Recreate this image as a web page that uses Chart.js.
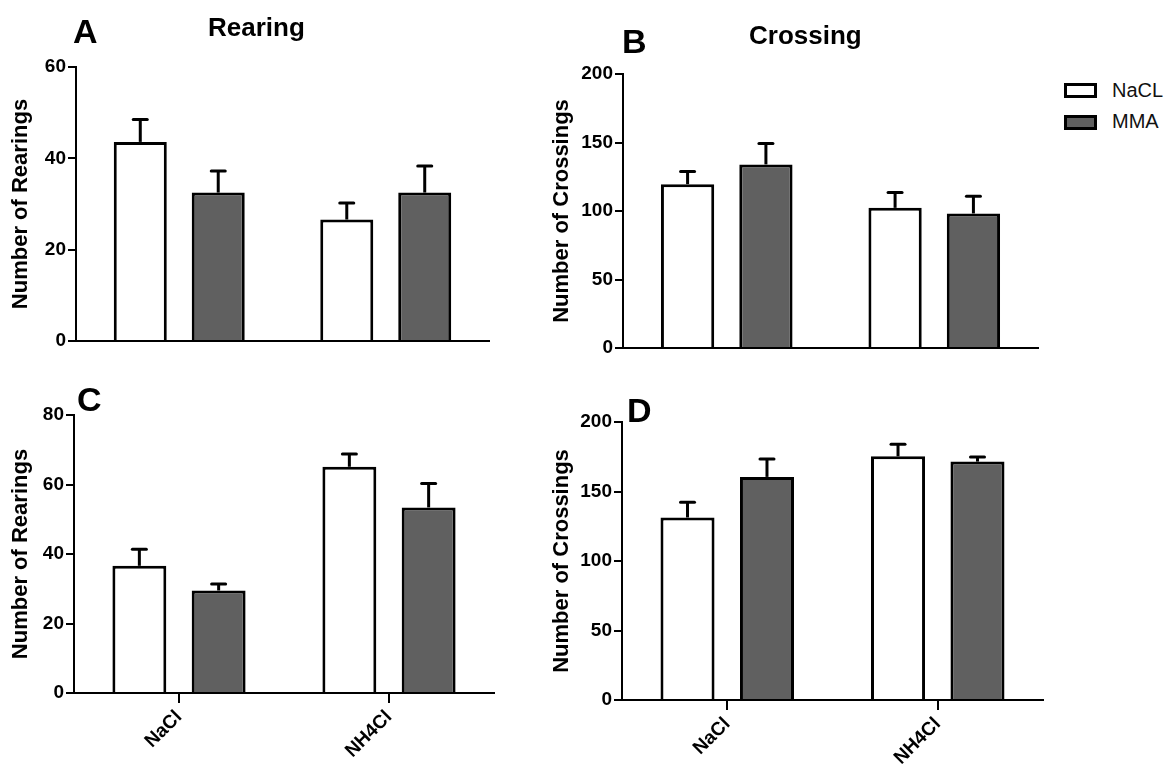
<!DOCTYPE html>
<html>
<head>
<meta charset="utf-8">
<script src="https://cdn.jsdelivr.net/npm/chart.js@4"></script>
<style>
  body { margin: 0; background: #fff; font-family: 'Liberation Sans', Arial, sans-serif; }
  #wrap { position: relative; width: 1176px; height: 767px; overflow: hidden; }
  canvas { position: absolute; }
  .txt { position: absolute; font-weight: bold; line-height: 1; color: #000; white-space: nowrap; }
  .letter { font-size: 34px; }
  .title { font-size: 26px; }
  .legbox { position: absolute; width: 27px; height: 9px; border: 3px solid #000; }
  .legtxt { position: absolute; font-size: 20px; line-height: 1; color: #111; }
</style>
</head>
<body>
<div id="wrap">
  <canvas id="chartA" width="492" height="362" style="left:0;top:0"></canvas>
  <canvas id="chartB" width="501" height="366" style="left:540px;top:0"></canvas>
  <canvas id="chartC" width="497" height="397" style="left:0;top:370px"></canvas>
  <canvas id="chartD" width="506" height="397" style="left:540px;top:370px"></canvas>

  <div class="txt letter" style="left:73px;top:14px">A</div>
  <div class="txt letter" style="left:622px;top:24px">B</div>
  <div class="txt letter" style="left:77px;top:382px">C</div>
  <div class="txt letter" style="left:627px;top:393px">D</div>
  <div class="txt title" style="left:208px;top:14px">Rearing</div>
  <div class="txt title" style="left:749px;top:22px">Crossing</div>

  <div class="legbox" style="left:1064px;top:83px;background:#fff"></div>
  <div class="legtxt" style="left:1112px;top:80px">NaCL</div>
  <div class="legbox" style="left:1064px;top:115px;background:#606060"></div>
  <div class="legtxt" style="left:1112px;top:111px">MMA</div>
</div>
<script>
const groups = ['NaCl', 'NH4Cl'];
const seriesNames = ['NaCL', 'MMA'];

// A - rearing (top)
const rearingTopNacl = [43.6, 26.6];
const rearingTopNaclErr = [4.9, 3.6];
const rearingTopMma = [32.5, 32.5];
const rearingTopMmaErr = [4.7, 5.8];

// B - crossing (top)
const crossingTopNacl = [119.6, 102.3];
const crossingTopNaclErr = [9.3, 11.2];
const crossingTopMma = [134.0, 98.2];
const crossingTopMmaErr = [15.3, 12.6];

// C - rearing (bottom)
const rearingBotNacl = [36.6, 65.1];
const rearingBotNaclErr = [4.8, 3.7];
const rearingBotMma = [29.5, 53.4];
const rearingBotMmaErr = [1.9, 6.9];

// D - crossing (bottom)
const crossingBotNacl = [131.3, 175.3];
const crossingBotNaclErr = [11.0, 8.7];
const crossingBotMma = [160.5, 171.5];
const crossingBotMmaErr = [12.9, 3.4];

const rearingTicks = { A: [0, 60, 20], C: [0, 80, 20] };
const crossingTicks = [0, 200, 50];

const FONT = "'Liberation Sans', Arial, sans-serif";
Chart.defaults.color = '#000';
Chart.defaults.font.family = FONT;

const errorBars = {
    id: 'errorBars',
    afterDatasetsDraw(chart) {
        const ctx = chart.ctx;
        const y = chart.scales.y;
        chart.data.datasets.forEach((ds, i) => {
            chart.getDatasetMeta(i).data.forEach((bar, j) => {
                const top = y.getPixelForValue(ds.data[j] + ds.errors[j]);
                ctx.save();
                ctx.strokeStyle = '#000';
                ctx.lineWidth = 3;
                ctx.beginPath();
                ctx.moveTo(bar.x, bar.y);
                ctx.lineTo(bar.x, top);
                ctx.stroke();
                ctx.lineCap = 'round';
                ctx.beginPath();
                ctx.moveTo(bar.x - 7, top);
                ctx.lineTo(bar.x + 7, top);
                ctx.stroke();
                ctx.restore();
            });
        });
    }
};

function makePanel(id, nacl, naclErr, mma, mmaErr, ticks, yTitle, lay) {
    const ctx = document.getElementById(id).getContext('2d');
    return new Chart(ctx, {
        type: 'bar',
        data: {
            labels: groups,
            datasets: [{
                label: seriesNames[0],
                data: nacl,
                errors: naclErr,
                backgroundColor: '#ffffff',
                borderColor: '#000',
                borderWidth: 3
            }, {
                label: seriesNames[1],
                data: mma,
                errors: mmaErr,
                backgroundColor: '#606060',
                borderColor: '#000',
                borderWidth: 3
            }]
        },
        options: {
            responsive: false,
            animation: false,
            categoryPercentage: 0.755,
            barPercentage: 0.68,
            layout: { padding: { top: lay.top, right: 3, bottom: lay.bottom, left: 0 } },
            plugins: { legend: { display: false }, tooltip: { enabled: false } },
            scales: {
                x: {
                    offset: true,
                    border: { display: true, color: '#000', width: 2 },
                    grid: {
                        display: lay.showX,
                        offset: false,
                        drawOnChartArea: false,
                        drawTicks: true,
                        tickLength: 10,
                        color: '#000',
                        lineWidth: 2
                    },
                    ticks: {
                        display: lay.showX,
                        minRotation: 45,
                        maxRotation: 45,
                        padding: 3,
                        font: { size: 19, weight: 'bold' }
                    },
                    afterFit: s => { s.height = lay.xHeight; }
                },
                y: {
                    min: ticks[0],
                    max: ticks[1],
                    border: { display: true, color: '#000', width: 2 },
                    grid: {
                        drawOnChartArea: false,
                        drawTicks: true,
                        tickLength: 8,
                        color: '#000',
                        lineWidth: 2
                    },
                    ticks: {
                        stepSize: ticks[2],
                        padding: 2,
                        font: { size: 19, weight: 'bold' }
                    },
                    title: {
                        display: true,
                        text: yTitle,
                        padding: { top: lay.titlePad, bottom: 0 },
                        font: { size: 22, weight: 'bold' }
                    },
                    afterFit: s => { s.width = lay.yWidth; }
                }
            }
        },
        plugins: [errorBars]
    });
}

makePanel('chartA', rearingTopNacl, rearingTopNaclErr, rearingTopMma, rearingTopMmaErr,
    rearingTicks.A, 'Number of Rearings',
    { top: 67, bottom: 21, xHeight: 0, yWidth: 76, showX: false, titlePad: 8 });
makePanel('chartB', crossingTopNacl, crossingTopNaclErr, crossingTopMma, crossingTopMmaErr,
    crossingTicks, 'Number of Crossings',
    { top: 74, bottom: 18, xHeight: 0, yWidth: 83, showX: false, titlePad: 9 });
makePanel('chartC', rearingBotNacl, rearingBotNaclErr, rearingBotMma, rearingBotMmaErr,
    rearingTicks.C, 'Number of Rearings',
    { top: 45, bottom: 0, xHeight: 74, yWidth: 74, showX: true, titlePad: 8 });
makePanel('chartD', crossingBotNacl, crossingBotNaclErr, crossingBotMma, crossingBotMmaErr,
    crossingTicks, 'Number of Crossings',
    { top: 52, bottom: 0, xHeight: 67, yWidth: 82, showX: true, titlePad: 9 });
</script>
</body>
</html>
